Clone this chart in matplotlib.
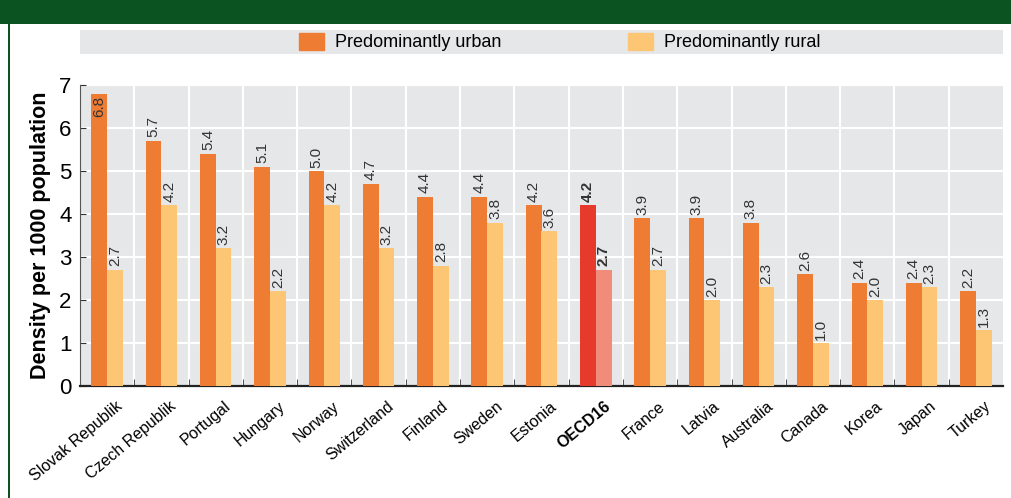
import numpy as np
import matplotlib.pyplot as plt
from matplotlib.patches import Rectangle, Patch

countries = ["Slovak Republik", "Czech Republik", "Portugal", "Hungary", "Norway",
             "Switzerland", "Finland", "Sweden", "Estonia", "OECD16", "France",
             "Latvia", "Australia", "Canada", "Korea", "Japan", "Turkey"]
urban = [6.8, 5.7, 5.4, 5.1, 5.0, 4.7, 4.4, 4.4, 4.2, 4.2, 3.9, 3.9, 3.8, 2.6, 2.4, 2.4, 2.2]
rural = [2.7, 4.2, 3.2, 2.2, 4.2, 3.2, 2.8, 3.8, 3.6, 2.7, 2.7, 2.0, 2.3, 1.0, 2.0, 2.3, 1.3]

c_urban = "#ee7d33"
c_rural = "#fdc675"
c_urban_hl = "#e53a2c"
c_rural_hl = "#f08c79"
bg = "#e6e7e9"
green = "#0b5320"

plt.rcParams['font.family'] = ['Liberation Sans Narrow', 'Liberation Sans', 'DejaVu Sans']

fig = plt.figure(figsize=(10.12, 4.98), dpi=100)
fig.patch.set_facecolor("white")

# frame: green title band + left rule
fig.patches.append(Rectangle((0, 1 - 24 / 498), 1, 24 / 498, transform=fig.transFigure,
                             facecolor=green, edgecolor="none", zorder=0))
fig.patches.append(Rectangle((8 / 1012, 0), 2.5 / 1012, 1, transform=fig.transFigure,
                             facecolor=green, edgecolor="none", zorder=0))
# legend band
fig.patches.append(Rectangle((80 / 1012, 1 - 54 / 498), 923 / 1012, 24 / 498,
                             transform=fig.transFigure, facecolor=bg, edgecolor="none", zorder=0))

ax = fig.add_axes([80 / 1012, 1 - 386 / 498, 923 / 1012, 301 / 498])
ax.set_facecolor(bg)

x = np.arange(len(countries))
w = 0.29
hl = countries.index("OECD16")
cu = [c_urban_hl if i == hl else c_urban for i in x]
cr = [c_rural_hl if i == hl else c_rural for i in x]
ax.bar(x - w / 2, urban, w, color=cu, zorder=3)
ax.bar(x + w / 2, rural, w, color=cr, zorder=3)

ax.set_xlim(-0.5, len(countries) - 0.5)
ax.set_ylim(0, 7)

for i in x:
    fw = "bold" if i == hl else "normal"
    for xv, v in ((i - w / 2, urban[i]), (i + w / 2, rural[i])):
        if v > 6.5:
            ax.text(xv, v - 0.05, f"{v:.1f}", rotation=90, ha="center", va="top",
                    fontsize=11, color="#333333", fontweight=fw, zorder=4)
        else:
            ax.text(xv, v + 0.08, f"{v:.1f}", rotation=90, ha="center", va="bottom",
                    fontsize=11, color="#333333", fontweight=fw, zorder=4)

# grid: horizontal at integers, vertical at group boundaries
for yv in range(1, 8):
    ax.axhline(yv, color="white", lw=1.5, zorder=1)
for b in np.arange(0.5, len(countries) - 0.5, 1):
    ax.axvline(b, color="white", lw=1.5, zorder=1)

ax.set_xticks(x + 0.15)
ax.set_xticklabels(countries, rotation=40, ha="right", rotation_mode="anchor", fontsize=11.5)
ax.get_xticklabels()[hl].set_fontweight("bold")
ax.tick_params(axis="x", length=0, pad=9)
ax.set_xticks(np.arange(0.5, len(countries) - 0.5, 1), minor=True)
ax.tick_params(axis="x", which="minor", direction="in", length=5, color="#333333")

ax.set_yticks(range(0, 8))
ax.tick_params(axis="y", direction="in", length=4, labelsize=16, pad=6, color="#333333")
ax.set_ylabel("Density per 1000 population", fontsize=15.5, fontweight="bold",
              family=["Liberation Sans", "DejaVu Sans"], labelpad=6)

for s in ("top", "right"):
    ax.spines[s].set_visible(False)
ax.spines["left"].set_color("#555555")
ax.spines["bottom"].set_color("#222222")
ax.spines["bottom"].set_linewidth(1.6)

handles = [Patch(color=c_urban, label="Predominantly urban"),
           Patch(color=c_rural, label="Predominantly rural")]
fig.legend(handles=handles, loc="center", bbox_to_anchor=(0.553, 1 - 42 / 498), ncol=2,
           frameon=False, fontsize=13, handlelength=1.4, handleheight=1.1,
           columnspacing=7, handletextpad=0.6)

fig.savefig("out.png", dpi=100)
